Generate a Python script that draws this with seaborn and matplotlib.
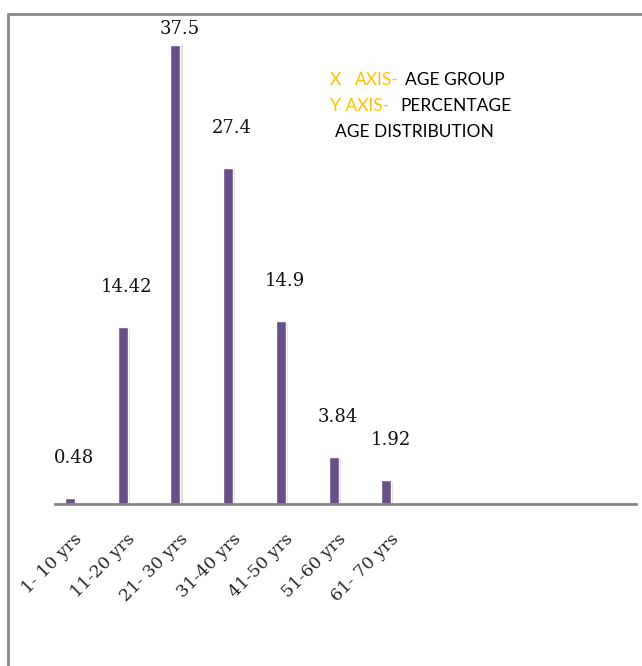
import matplotlib
matplotlib.use("Agg")
import matplotlib.pyplot as plt
import matplotlib.patheffects as pe
from matplotlib.lines import Line2D
from matplotlib.transforms import ScaledTranslation
import seaborn as sns
import pandas as pd

# age distribution (percentage)
age_groups = ["1- 10 yrs", "11-20 yrs", "21- 30 yrs", "31-40 yrs", "41-50 yrs", "51-60 yrs", "61- 70 yrs"]
percentages = [0.48, 14.42, 37.5, 27.4, 14.9, 3.84, 1.92]
value_labels = ["0.48", "14.42", "37.5", "27.4", "14.9", "3.84", "1.92"]

df = pd.DataFrame({"age": age_groups, "pct": percentages})

sns.set_style("white")
W, H = 642, 666
fig = plt.figure(figsize=(W / 100, H / 100), dpi=100)
ax = fig.add_axes([55 / W, (H - 504) / H, (636 - 55) / W, (504 - 14) / H])

sns.barplot(data=df, x="age", y="pct", color="#674f88", saturation=1, width=0.19, ax=ax)
for bar in ax.patches:
    bar.set_path_effects([pe.SimplePatchShadow(offset=(1.5, -1), shadow_rgbFace="#999999", alpha=0.35), pe.Normal()])

ax.set_xlim(-0.285, 10.74)
ax.set_ylim(0, 40)
ax.set_xlabel("")
ax.set_ylabel("")
ax.set_yticks([])
for s in ["top", "right", "left"]:
    ax.spines[s].set_visible(False)
ax.spines["bottom"].set_color("#868686")
ax.spines["bottom"].set_linewidth(2)

ax.tick_params(axis="x", length=0, pad=19)
ax.set_xticks(range(len(age_groups)))
ax.set_xticklabels(age_groups, rotation=45, ha="right", fontsize=12.5, family="DejaVu Serif")
shift = ScaledTranslation(16 / 100, 0, fig.dpi_scale_trans)
for lbl in ax.get_xticklabels():
    lbl.set_transform(lbl.get_transform() + shift)

for i, (v, t) in enumerate(zip(percentages, value_labels)):
    off = 11 if v > 30 else 29
    ax.annotate(t, (i, v), xytext=(3, off), textcoords="offset points",
                ha="center", va="center", fontsize=13, family="DejaVu Serif", color="#111111")

# border of the chart area
fig.add_artist(Line2D([8 / W, 1], [1 - 14 / H, 1 - 14 / H], color="#888888", lw=2))
fig.add_artist(Line2D([8 / W, 8 / W], [0, 1 - 14 / H], color="#888888", lw=2))

# legend-like notes
orange = "#ffc000"
fs = 12.5
fam = "Lato"
def put(x, y, s, c):
    fig.text(x / W, 1 - y / H, s, color=c, fontsize=fs, family=fam, va="center", ha="left")

put(330, 80, "X", orange)
put(355, 80, "AXIS-", orange)
put(405, 80, "AGE GROUP", "black")
put(330, 106, "Y AXIS-", orange)
put(400, 106, "PERCENTAGE", "black")
put(335, 132, "AGE DISTRIBUTION", "black")

fig.savefig("out.png", dpi=100)
